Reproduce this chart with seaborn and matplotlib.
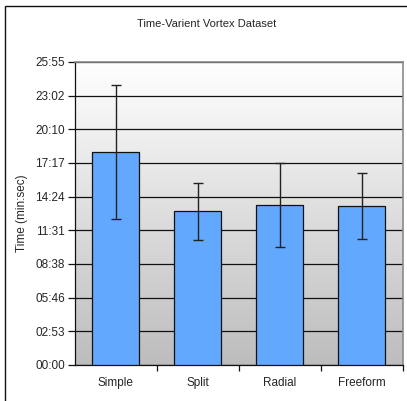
import numpy as np
import pandas as pd
import matplotlib
matplotlib.use("Agg")
import matplotlib.pyplot as plt
import seaborn as sns
from matplotlib.ticker import FuncFormatter, MultipleLocator
from matplotlib.patches import Rectangle
from matplotlib.colors import LinearSegmentedColormap

# datos (segundos)
metodos = ["Simple", "Split", "Radial", "Freeform"]
tiempos = [1095, 789, 821, 816]
errores = [344, 145, 215, 168]

df = pd.DataFrame({"Metodo": metodos, "Tiempo": tiempos})

sns.set_style("white")
plt.rcParams["font.family"] = ["Liberation Sans", "DejaVu Sans"]

fig = plt.figure(figsize=(4.07, 4.01), dpi=100)
ax = fig.add_axes([0.1835, 0.0898, 0.8055, 0.7556])

ymax = 1555.2
# fondo degradado gris (abajo) -> blanco (arriba)
gris = LinearSegmentedColormap.from_list("g", ["#bdbdbd", "#ffffff"])
ax.imshow(np.linspace(0, 1, 256).reshape(-1, 1), aspect="auto", cmap=gris,
          extent=[-0.5, 3.5, 0, ymax], origin="lower", zorder=0)

sns.barplot(data=df, x="Metodo", y="Tiempo", color="#62a8ff", width=0.57,
            edgecolor="#111111", linewidth=0.9, saturation=1, errorbar=None, ax=ax, zorder=3)
ax.errorbar(range(len(metodos)), tiempos, yerr=errores, fmt="none", ecolor="#222222",
            elinewidth=1.0, capsize=3.5, capthick=1.0, zorder=4)

ax.set_xlim(-0.5, 3.5)
ax.set_ylim(0, ymax)
ax.yaxis.set_major_locator(MultipleLocator(172.8))

def mmss(v, pos):
    s = int(round(v))
    return "%02d:%02d" % (s // 60, s % 60)

ax.yaxis.set_major_formatter(FuncFormatter(mmss))
ax.yaxis.grid(True, color="#111111", linewidth=0.9, zorder=1)
ax.set_axisbelow(True)

ax.set_xticks(range(len(metodos)))
ax.set_xticklabels(metodos)
ax.set_xticks([0.5, 1.5, 2.5, 3.5], minor=True)
ax.tick_params(axis="x", which="major", length=0, pad=9, labelsize=8.5)
ax.tick_params(axis="x", which="minor", length=4, width=0.9, color="#111111", direction="out", bottom=True)
ax.tick_params(axis="y", length=5, width=0.9, color="#111111", direction="out", left=True, labelsize=8.5, pad=2)

ax.set_xlabel("")
ax.set_ylabel("Time (min:sec)", fontsize=8.5, labelpad=5)

for lado in ["left", "bottom"]:
    ax.spines[lado].set_color("#111111")
    ax.spines[lado].set_linewidth(0.9)
for lado in ["top", "right"]:
    ax.spines[lado].set_visible(True)
    ax.spines[lado].set_color("#8a8a8a")
    ax.spines[lado].set_linewidth(1.2)

fig.text(207 / 407, 1 - 24 / 401, "Time-Varient Vortex Dataset", ha="center", va="center", fontsize=8)

# marco exterior
fig.patches.append(Rectangle((5 / 407, -0.1), 1.2, 1.1 - 5.5 / 401, transform=fig.transFigure,
                             fill=False, edgecolor="#111111", linewidth=1.0))

fig.savefig("out.png", dpi=100)
